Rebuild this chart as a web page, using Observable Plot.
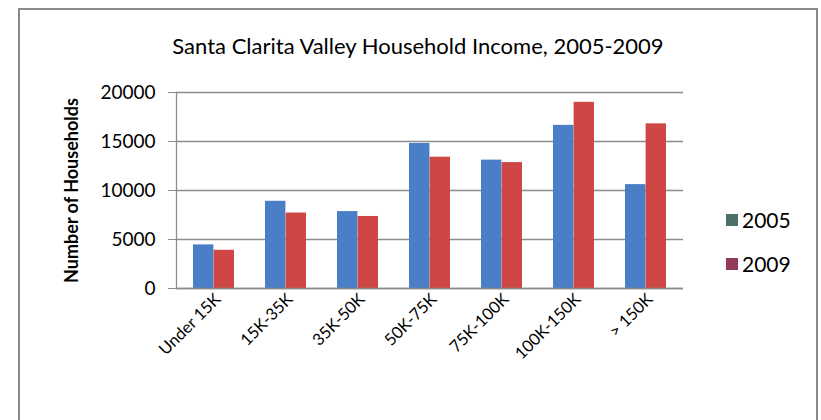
<!DOCTYPE html>
<html>
<head>
<meta charset="utf-8">
<script src="https://cdn.jsdelivr.net/npm/d3@7"></script>
<script src="https://cdn.jsdelivr.net/npm/@observablehq/plot@0.6"></script>
<style>
  body { margin: 0; background: #fff; }
  #wrap { position: relative; width: 821px; height: 420px; overflow: hidden; background: #fff; font-family: Lato, "Open Sans", sans-serif; }
  #frame { position: absolute; left: 18px; top: 8px; width: 800px; height: 440px; border: 2px solid #8a8a8a; box-sizing: border-box; }
  #title { position: absolute; left: 0; width: 836px; top: 32px; text-align: center; font-size: 22px; color: #000; }
  #chart { position: absolute; left: 0; top: 0; }
  .leg { position: absolute; left: 726px; font-size: 21px; color: #000; display: flex; align-items: center; }
  .sw { width: 12px; height: 12px; margin-right: 4px; }
</style>
</head>
<body>
<div id="wrap">
  <div id="frame"></div>
  <div id="chart"></div>
  <div id="title">Santa Clarita Valley Household Income, 2005-2009</div>
  <div id="legend"></div>
</div>
<script>
const categories = ["Under 15K", "15K-35K", "35K-50K", "50K-75K", "75K-100K", "100K-150K", "> 150K"];
const years = ["2005", "2009"];
const values2005 = [4450, 8900, 7850, 14800, 13100, 16650, 10600];
const values2009 = [3900, 7700, 7350, 13400, 12850, 19000, 16800];
const yTicks = [0, 5000, 10000, 15000, 20000];

const barColors = {"2005": "#4a7ec6", "2009": "#cf4744"};
const legendColors = {"2005": "#4c6f68", "2009": "#8f3a5a"};

const d2005 = categories.map((c, i) => ({category: c, value: values2005[i]}));
const d2009 = categories.map((c, i) => ({category: c, value: values2009[i]}));

const half = 20.6;
const chart = Plot.plot({
  width: 821,
  height: 420,
  marginLeft: 176,
  marginRight: 138,
  marginTop: 92,
  marginBottom: 132,
  style: {fontFamily: "Lato, 'Open Sans', sans-serif", background: "transparent", color: "#000"},
  x: {domain: categories, paddingInner: 0.43, paddingOuter: 0.215, label: null},
  y: {domain: [0, 20000], label: null},
  marks: [
    Plot.gridY(yTicks, {stroke: "#8c8c8c", strokeOpacity: 1, strokeWidth: 1.3}),
    Plot.barY(d2005, {x: "category", y: "value", fill: barColors["2005"], insetRight: half}),
    Plot.barY(d2009, {x: "category", y: "value", fill: barColors["2009"], insetLeft: half}),
    Plot.ruleY([0], {stroke: "#8c8c8c", strokeWidth: 1.3}),
    Plot.frame({anchor: "left", stroke: "#8c8c8c", strokeWidth: 1.3}),
    Plot.axisY({ticks: yTicks, tickFormat: d3.format("d"), tickSize: 8, tickPadding: 13, fontSize: 19, stroke: "#8c8c8c", label: null}),
    Plot.axisX({tickSize: 0, tickRotate: -45, tickPadding: 8, dx: 4, fontSize: 16.5, label: null}),
    Plot.text(["Number of Households"], {frameAnchor: "left", dx: -104, rotate: -90, textAnchor: "middle", fontSize: 18, fontWeight: "bold", text: d => d})
  ]
});
document.getElementById("chart").appendChild(chart);

const legend = document.getElementById("legend");
const legendTops = {"2005": 207, "2009": 251};
years.forEach(y => {
  const el = document.createElement("div");
  el.className = "leg";
  el.style.top = legendTops[y] + "px";
  const sw = document.createElement("span");
  sw.className = "sw";
  sw.style.background = legendColors[y];
  el.appendChild(sw);
  el.appendChild(document.createTextNode(y));
  legend.appendChild(el);
});
</script>
</body>
</html>
